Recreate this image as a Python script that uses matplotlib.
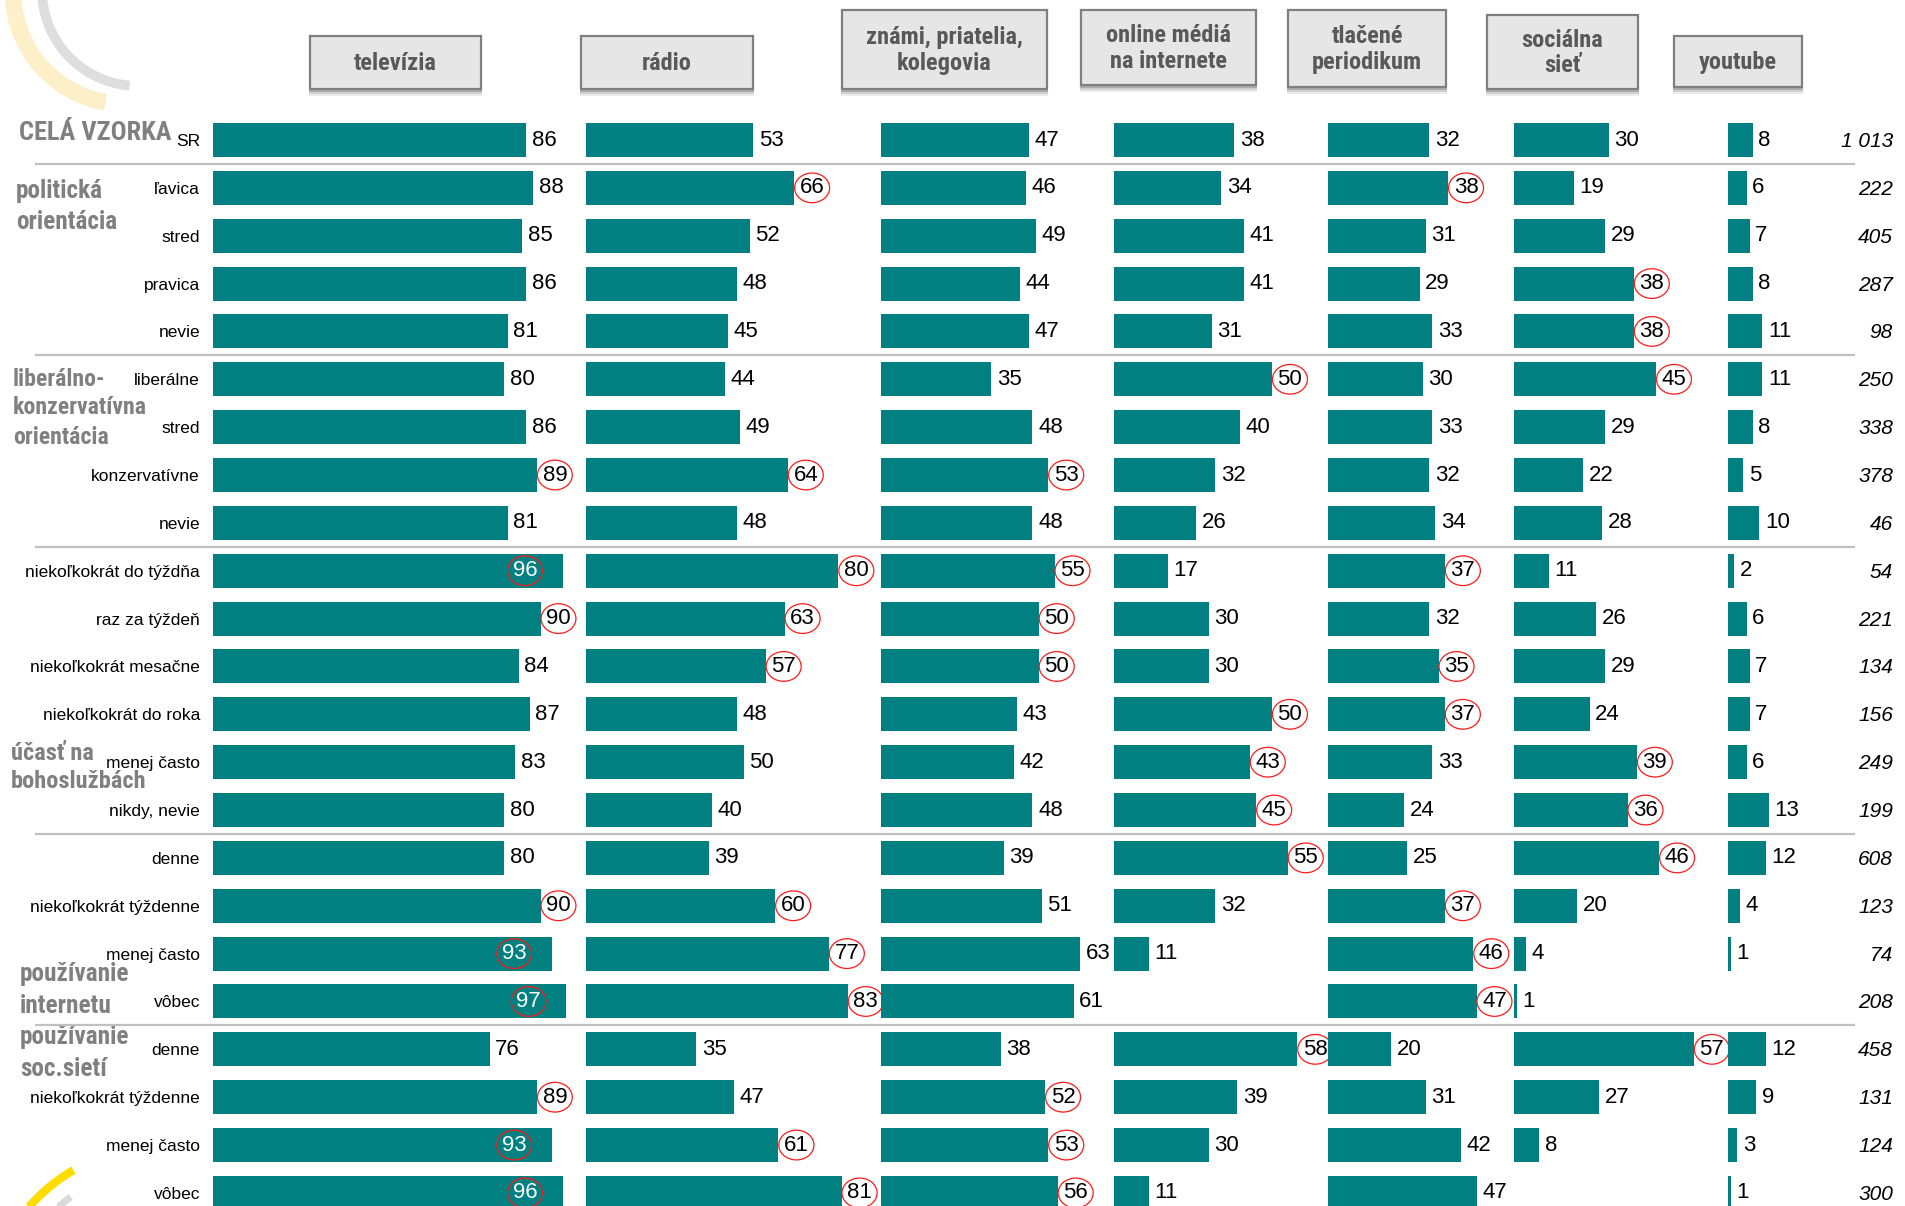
import numpy as np
import matplotlib
matplotlib.use("Agg")
import matplotlib.pyplot as plt
from matplotlib import font_manager
from matplotlib.patches import Rectangle

# ---------------- data ----------------
row_labels = ["SR", "ľavica", "stred", "pravica", "nevie", "liberálne", "stred",
              "konzervatívne", "nevie", "niekoľkokrát do týždňa", "raz za týždeň",
              "niekoľkokrát mesačne", "niekoľkokrát do roka", "menej často",
              "nikdy, nevie", "denne", "niekoľkokrát týždenne", "menej často", "vôbec",
              "denne", "niekoľkokrát týždenne", "menej často", "vôbec"]

media = ["televízia", "rádio", "známi, priatelia,\nkolegovia", "online médiá\nna internete",
         "tlačené\nperiodikum", "sociálna\nsieť", "youtube"]

televizia = [86, 88, 85, 86, 81, 80, 86, 89, 81, 96, 90, 84, 87, 83, 80, 80, 90, 93, 97, 76, 89, 93, 96]
radio = [53, 66, 52, 48, 45, 44, 49, 64, 48, 80, 63, 57, 48, 50, 40, 39, 60, 77, 83, 35, 47, 61, 81]
znami = [47, 46, 49, 44, 47, 35, 48, 53, 48, 55, 50, 50, 43, 42, 48, 39, 51, 63, 61, 38, 52, 53, 56]
online = [38, 34, 41, 41, 31, 50, 40, 32, 26, 17, 30, 30, 50, 43, 45, 55, 32, 11, None, 58, 39, 30, 11]
tlacene = [32, 38, 31, 29, 33, 30, 33, 32, 34, 37, 32, 35, 37, 33, 24, 25, 37, 46, 47, 20, 31, 42, 47]
socialna = [30, 19, 29, 38, 38, 45, 29, 22, 28, 11, 26, 29, 24, 39, 36, 46, 20, 4, 1, 57, 27, 8, None]
youtube = [8, 6, 7, 8, 11, 11, 8, 5, 10, 2, 6, 7, 7, 6, 13, 12, 4, 1, None, 12, 9, 3, 1]
series = [televizia, radio, znami, online, tlacene, socialna, youtube]

n_resp = ["1 013", "222", "405", "287", "98", "250", "338", "378", "46", "54", "221", "134",
          "156", "249", "199", "608", "123", "74", "208", "458", "131", "124", "300"]

# highlighted (circled) rows for every medium
circled = [
    [7, 9, 10, 16, 17, 18, 20, 21, 22],
    [1, 7, 9, 10, 11, 16, 17, 18, 21, 22],
    [7, 9, 10, 11, 20, 21, 22],
    [5, 12, 13, 14, 15, 19],
    [1, 9, 11, 12, 16, 17, 18],
    [3, 4, 5, 13, 14, 15, 19],
    [],
]

groups = [
    (["CELÁ VZORKA"], 19, [133], 20),
    (["politická", "orientácia"], 16, [191, 222], 19),
    (["liberálno-", "konzervatívna", "orientácia"], 13, [379, 408, 437], 18),
    (["účasť na", "bohoslužbách"], 11, [753, 782], 18.5),
    (["používanie", "internetu"], 20, [974, 1006], 19),
    (["používanie", "soc.sietí"], 20, [1037, 1069], 19),
]
separators = [0.5, 4.5, 8.5, 14.5, 18.5]

# ---------------- layout ----------------
W, H = 1905, 1206
ROW0, ROWSTEP = 140, 47.86
panel_x = [212.6, 585.6, 880.8, 1114, 1328, 1513.8, 1727.6]
px_per_unit = [3.645, 3.16, 3.16, 3.16, 3.16, 3.16, 3.16]
headers = [  # x0, x1, y0, y1 in pixels
    (310, 481, 36, 89), (581, 753, 36, 89), (842, 1047, 10, 89), (1081, 1256, 10, 85),
    (1288, 1446, 10, 87), (1487, 1638, 15, 89), (1674, 1802, 36, 87)]
TEAL = "#008080"
INSIDE_MIN = 93

names = {f.name for f in font_manager.fontManager.ttflist}
if "Liberation Sans Narrow" in names:
    NARROW, NS = "Liberation Sans Narrow", 1.0
elif "Roboto Condensed" in names:
    NARROW, NS = "Roboto Condensed", 0.95
else:
    NARROW, NS = "Liberation Sans", 0.84

plt.rcParams["font.family"] = ["Liberation Sans", "DejaVu Sans"]

fig = plt.figure(figsize=(W / 100, H / 100), dpi=100)
ytop = (0 - ROW0) / ROWSTEP
ybot = (H - ROW0) / ROWSTEP

# pixel background axes
axb = fig.add_axes([0, 0, 1, 1])
axb.set_xlim(0, W)
axb.set_ylim(H, 0)
axb.axis("off")

# logo swooshes
t = np.radians(np.linspace(100, 182, 80))
axb.plot(125 + 112 * np.cos(t), -8 + 112 * np.sin(t), color="#fdf0c8", lw=12, solid_capstyle="butt")
t = np.radians(np.linspace(95, 180, 80))
axb.plot(138 + 96 * np.cos(t), -10 + 96 * np.sin(t), color="#dedede", lw=7, solid_capstyle="butt")
t = np.radians(np.linspace(-142, -120, 40))
axb.plot(160 + 173 * np.cos(t), 1320 + 173 * np.sin(t), color="#ffdd00", lw=6, solid_capstyle="butt")
t = np.radians(np.linspace(-136, -126, 30))
axb.plot(160 + 152 * np.cos(t), 1320 + 152 * np.sin(t), color="#d9d9d9", lw=5, solid_capstyle="butt")

# header boxes
for (x0, x1, y0, y1), name in zip(headers, media):
    for k, a in [(7, 0.10), (5, 0.16), (3, 0.24)]:
        axb.add_patch(Rectangle((x0 - 1, y0 + k), x1 - x0 + 2, y1 - y0, fc="#404040",
                                ec="none", alpha=a, zorder=1))
    axb.add_patch(Rectangle((x0, y0), x1 - x0, y1 - y0, fc="#e6e6e6", ec="#7f7f7f",
                            lw=1.6, zorder=2))
    axb.text((x0 + x1) / 2, (y0 + y1) / 2 + 1, name, ha="center", va="center",
             fontsize=18.5 * NS, fontweight="bold", color="#595959",
             family=[NARROW, "DejaVu Sans"], linespacing=1.12, zorder=3)

# group labels
for lines, gx, gys, fs in groups:
    for line, gy in zip(lines, gys):
        axb.text(gx, gy, line, ha="left", va="center", fontsize=fs * NS,
                 fontweight="bold", color="#808080", family=[NARROW, "DejaVu Sans"])

# row axes (labels, separators, sample size)
axr = fig.add_axes([0, 0, 1, 1])
axr.set_xlim(0, W)
axr.set_ylim(ybot, ytop)
axr.axis("off")
axr.patch.set_alpha(0)
axr.hlines(separators, 35, 1855, color="#c0c0c0", lw=1.6)
for i, lab in enumerate(row_labels):
    axr.text(200, i + 0.03, lab, ha="right", va="center", fontsize=12.5, color="black")
    axr.text(1893, i + 0.03, n_resp[i], ha="right", va="center", fontsize=15,
             style="italic", color="black")

# bar panels
for p, vals in enumerate(series):
    left = panel_x[p]
    width = 360
    ax = fig.add_axes([left / W, 0, width / W, 1])
    ax.set_xlim(0, width / px_per_unit[p])
    ax.set_ylim(ybot, ytop)
    ax.axis("off")
    ax.patch.set_alpha(0)
    ys = [i for i, v in enumerate(vals) if v is not None]
    vs = [vals[i] for i in ys]
    ax.barh(ys, vs, height=0.71, color=TEAL, zorder=2)
    for i, v in zip(ys, vs):
        circ = i in circled[p]
        bbox = dict(boxstyle="ellipse,pad=0.0", fc="none", ec="#ff1a1a", lw=0.9) if circ else None
        if p == 0 and v >= INSIDE_MIN:
            ax.annotate(str(v), xy=(v, i), xytext=(-27, 0), textcoords="offset points",
                        ha="center", va="center", fontsize=16, color="white",
                        bbox=bbox, zorder=3, annotation_clip=False)
        else:
            ax.annotate(str(v), xy=(v, i), xytext=(4, 0), textcoords="offset points",
                        ha="left", va="center", fontsize=16, color="black",
                        bbox=bbox, zorder=3, annotation_clip=False)

fig.savefig("out.png", dpi=100)
